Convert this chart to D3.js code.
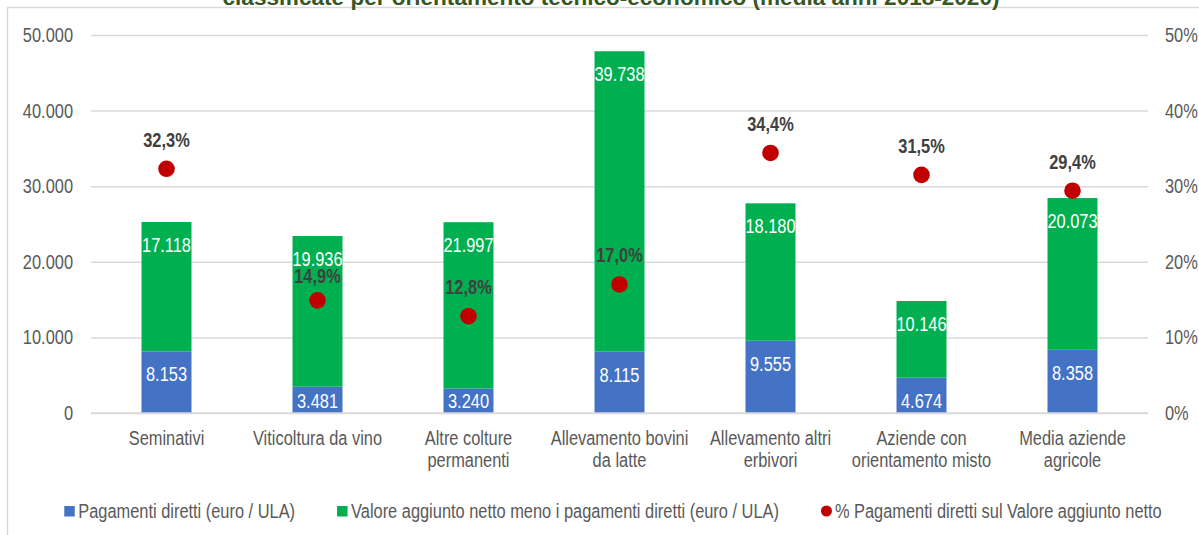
<!DOCTYPE html>
<html>
<head>
<meta charset="utf-8">
<script src="https://cdn.jsdelivr.net/npm/d3@7"></script>
<style>
    html, body { margin: 0; padding: 0; background: #fff; }
    svg { display: block; }
</style>
</head>
<body>
<div id="chart"></div>
<script>
// chart data (media anni 2018-2020)
const categories = [
    'Seminativi',
    'Viticoltura da vino',
    'Altre colture\npermanenti',
    'Allevamento bovini\nda latte',
    'Allevamento altri\nerbivori',
    'Aziende con\norientamento misto',
    'Media aziende\nagricole'
];
const pagamentiDiretti = [8153, 3481, 3240, 8115, 9555, 4674, 8358];
const valoreNettoMenoPagamenti = [17118, 19936, 21997, 39738, 18180, 10146, 20073];
const quotaPagamenti = [32.3, 14.9, 12.8, 17.0, 34.4, 31.5, 29.4];

const leftTicks = [0, 10000, 20000, 30000, 40000, 50000];
const rightTicks = [0, 10, 20, 30, 40, 50];

const seriesNames = [
    'Pagamenti diretti (euro / ULA)',
    'Valore aggiunto netto meno i pagamenti diretti (euro / ULA)',
    '% Pagamenti diretti sul Valore aggiunto netto'
];
const titleText = 'classificate per orientamento tecnico-economico (media anni 2018-2020)';

const W = 1199, H = 535;
const plot = { left: 91, right: 1148, top: 35, bottom: 413 };
const colors = { blue: '#4472C4', green: '#00B050', red: '#C00000', text: '#595959', grid: '#D9D9D9' };

// pick a narrow font if it is there, otherwise shrink the regular one
function fontAvailable(name) {
    const ctx = document.createElement('canvas').getContext('2d');
    const probe = 'Seminativi 50.000 Allevamento';
    ctx.font = '20px monospace';
    const base = ctx.measureText(probe).width;
    ctx.font = `20px "${name}", monospace`;
    return ctx.measureText(probe).width !== base;
}
const narrow = fontAvailable('Liberation Sans Narrow');
const FONT = narrow ? '"Liberation Sans Narrow", "Arial Narrow", sans-serif' : '"Liberation Sans", Arial, sans-serif';
const fs = px => (narrow ? px : px * 0.82) + 'px';

// the source text is tall and narrow: stretch the regular face upward
function condense(sel) {
    if (narrow) return sel;
    return sel
        .style('transform-box', 'fill-box')
        .style('transform-origin', 'center')
        .style('transform', 'scaleY(1.22)');
}

const it = d3.formatLocale({ decimal: ',', thousands: '.', grouping: [3], currency: ['€', ''] });
const fmtNum = it.format(',.0f');
const fmtPct = it.format('.1f');

function drawChart() {
    const svg = d3.select('#chart').append('svg')
        .attr('width', W)
        .attr('height', H)
        .style('font-family', FONT);

    // frame of the original picture
    svg.append('rect')
        .attr('x', 7.5).attr('y', 7.5)
        .attr('width', W + 20).attr('height', H + 20)
        .attr('fill', 'none')
        .attr('stroke', colors.grid)
        .attr('stroke-width', 1.5);

    // title, cut off at the top as in the source
    svg.append('text')
        .attr('x', 611)
        .attr('y', 5)
        .attr('text-anchor', 'middle')
        .attr('font-weight', 'bold')
        .attr('font-size', fs(27.5))
        .attr('fill', '#375623')
        .text(titleText);

    const x = d3.scaleBand()
        .domain(categories)
        .range([plot.left, plot.right])
        .paddingInner(0.669)
        .paddingOuter(0.3345);

    const yLeft = d3.scaleLinear().domain([0, 50000]).range([plot.bottom, plot.top]);
    const yRight = d3.scaleLinear().domain([0, 50]).range([plot.bottom, plot.top]);

    // gridlines
    svg.append('g')
        .attr('class', 'grid')
        .attr('transform', `translate(${plot.left},0)`)
        .call(d3.axisLeft(yLeft).tickValues(leftTicks).tickSize(-(plot.right - plot.left)).tickFormat(''))
        .call(g => g.select('.domain').remove())
        .call(g => g.selectAll('line').attr('stroke', colors.grid).attr('stroke-width', 1.5));

    // left axis labels
    svg.append('g')
        .attr('transform', `translate(73,0)`)
        .call(d3.axisLeft(yLeft).tickValues(leftTicks).tickSize(0).tickPadding(0).tickFormat(fmtNum))
        .call(g => g.select('.domain').remove())
        .call(g => g.selectAll('text')
            .attr('fill', colors.text)
            .style('font-family', FONT)
            .attr('font-size', fs(20))
            .call(condense));

    // right axis labels
    svg.append('g')
        .attr('transform', `translate(1165,0)`)
        .call(d3.axisRight(yRight).tickValues(rightTicks).tickSize(0).tickPadding(0).tickFormat(d => d + '%'))
        .call(g => g.select('.domain').remove())
        .call(g => g.selectAll('text')
            .attr('fill', colors.text)
            .style('font-family', FONT)
            .attr('font-size', fs(20))
            .call(condense));

    // stacked bars
    const rows = categories.map((c, i) => ({
        category: c,
        pagamenti: pagamentiDiretti[i],
        valore: valoreNettoMenoPagamenti[i]
    }));
    const stack = d3.stack().keys(['pagamenti', 'valore'])(rows);
    const stackColors = [colors.blue, colors.green];

    const barGroups = svg.append('g')
        .selectAll('g')
        .data(stack)
        .join('g')
        .attr('fill', (d, i) => stackColors[i]);

    barGroups.selectAll('rect')
        .data(d => d)
        .join('rect')
        .attr('x', d => x(d.data.category))
        .attr('y', d => yLeft(d[1]))
        .attr('width', x.bandwidth())
        .attr('height', d => yLeft(d[0]) - yLeft(d[1]));

    // value labels inside the segments (near the top, kept inside small segments)
    barGroups.selectAll('text')
        .data(d => d)
        .join('text')
        .attr('x', d => x(d.data.category) + x.bandwidth() / 2)
        .attr('y', d => Math.min(yLeft(d[1]) + 23, yLeft(d[0]) - 12))
        .attr('dy', '0.35em')
        .attr('text-anchor', 'middle')
        .attr('fill', '#fff')
        .attr('font-size', fs(20))
        .text(d => fmtNum(d[1] - d[0]))
        .call(condense);

    // baseline
    svg.append('line')
        .attr('x1', plot.left).attr('x2', plot.right)
        .attr('y1', yLeft(0)).attr('y2', yLeft(0))
        .attr('stroke', colors.grid)
        .attr('stroke-width', 1.5);

    // percentage dots
    const pts = categories.map((c, i) => ({ category: c, value: quotaPagamenti[i] }));
    svg.append('g')
        .selectAll('circle')
        .data(pts)
        .join('circle')
        .attr('cx', d => x(d.category) + x.bandwidth() / 2)
        .attr('cy', d => yRight(d.value))
        .attr('r', 8.3)
        .attr('fill', colors.red);

    // the 14,9% label sits a little lower in the source
    const labelLift = { 'Viticoltura da vino': 24 };
    svg.append('g')
        .selectAll('text')
        .data(pts)
        .join('text')
        .attr('x', d => x(d.category) + x.bandwidth() / 2)
        .attr('y', d => yRight(d.value) - (labelLift[d.category] || 29))
        .attr('dy', '0.35em')
        .attr('text-anchor', 'middle')
        .attr('font-weight', 'bold')
        .attr('font-size', fs(20))
        .attr('fill', '#404040')
        .text(d => fmtPct(d.value) + '%')
        .call(condense);

    // category labels, one text per line
    const catGroups = svg.append('g')
        .selectAll('g')
        .data(categories)
        .join('g')
        .attr('transform', d => `translate(${x(d) + x.bandwidth() / 2},0)`);

    catGroups.selectAll('text')
        .data(d => d.split('\n'))
        .join('text')
        .attr('x', 0)
        .attr('y', (d, i) => 444 + i * 22)
        .attr('text-anchor', 'middle')
        .attr('fill', colors.text)
        .attr('font-size', fs(20))
        .text(d => d)
        .call(condense);

    // legend
    const legend = svg.append('g').attr('class', 'legend');
    const legendY = 517;
    const gap = 42;
    const items = legend.selectAll('g')
        .data(seriesNames)
        .join('g');

    items.append('text')
        .attr('x', 14)
        .attr('y', legendY)
        .attr('fill', colors.text)
        .attr('font-size', fs(20))
        .text(d => d)
        .call(condense);

    items.each(function (d, i) {
        const g = d3.select(this);
        if (i < 2) {
            g.append('rect')
                .attr('x', 0).attr('y', legendY - 11)
                .attr('width', 10.5).attr('height', 10.5)
                .attr('fill', stackColors[i]);
        } else {
            g.append('circle')
                .attr('cx', 5.5).attr('cy', legendY - 6)
                .attr('r', 5.5)
                .attr('fill', colors.red);
        }
    });

    const widths = [];
    items.each(function () {
        widths.push(14 + d3.select(this).select('text').node().getComputedTextLength());
    });
    const total = d3.sum(widths) + gap * (widths.length - 1);
    let cursor = 613 - total / 2;
    items.each(function (d, i) {
        d3.select(this).attr('transform', `translate(${cursor},0)`);
        cursor += widths[i] + gap;
    });
}

window.addEventListener('DOMContentLoaded', drawChart);
</script>
</body>
</html>
